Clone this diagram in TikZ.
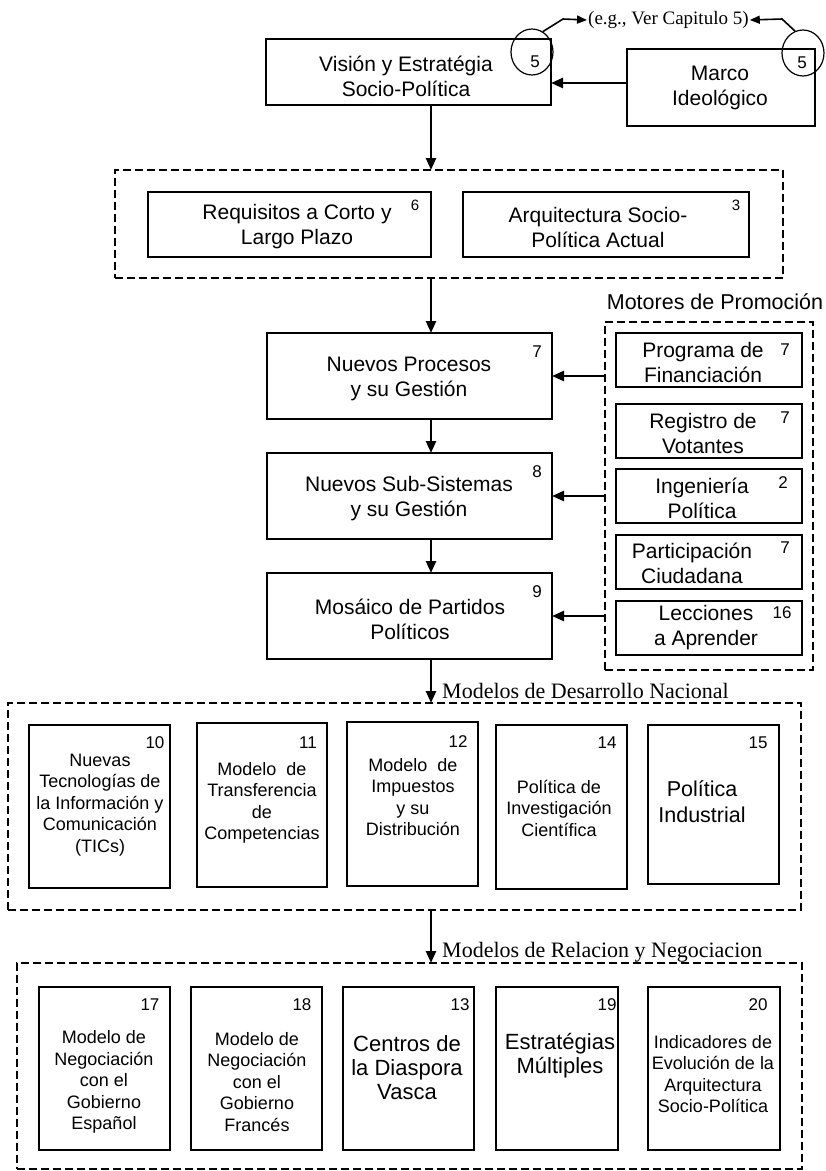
\documentclass[tikz,border=0pt]{standalone}
\usepackage{fontspec}
\setmainfont{Liberation Sans}
\newfontfamily\serifface{Liberation Serif}
\usetikzlibrary{arrows.meta,shapes.geometric}
\begin{document}
\begin{tikzpicture}[x=1pt,y=-1pt,
  box/.style={draw, line width=1.8pt, inner sep=0pt, outer sep=0pt},
  dbox/.style={draw, line width=2pt, dash pattern=on 8pt off 4pt, inner sep=0pt, outer sep=0pt},
  txt/.style={align=center, inner sep=0pt, font=\fontsize{21}{25}\selectfont},
  btxt/.style={align=center, inner sep=0pt, font=\fontsize{22}{24}\selectfont},
  stxt/.style={align=center, inner sep=0pt, font=\fontsize{18}{21.5}\selectfont},
  num/.style={inner sep=0pt, font=\fontsize{17}{20}\selectfont},
  snum/.style={inner sep=0pt, font=\fontsize{15}{18}\selectfont},
  circ/.style={draw, ellipse, line width=1.2pt, minimum width=42pt, minimum height=46pt, inner sep=0pt},
  arr/.style={line width=2.5pt, -{Triangle[length=12pt,width=10pt]}},
  egarr/.style={line width=1.6pt, -{Triangle[length=10pt,width=8pt]}},
  serlab/.style={inner sep=0pt, font=\serifface\fontsize{22}{26}\selectfont}
]
\fill[white] (0,0) rectangle (826,1171);
\useasboundingbox (0,0) rectangle (826,1171);

% ---- top
\node[box, minimum width=285pt, minimum height=66pt] (vis) at (408.5,72) {};
\node[txt] (tvis) at (406,76) {Visión y Estratégia\\Socio-Política};
\node[box, minimum width=188pt, minimum height=77pt] (mar) at (721,87.5) {};
\node[txt] (tmar) at (720,88) {Marco\\Ideológico};
\node[circ] (c1) at (532,52) {};
\node[num] (n1) at (535,62) {5};
\node[circ] (c2) at (803,53) {};
\node[num] (n2) at (802,63) {5};
\node[anchor=west, inner sep=1pt, font=\serifface\fontsize{19}{22}\selectfont] (eg) at (587,20) {(e.g., Ver Capitulo 5)};
\coordinate (k1) at (563,19);
\coordinate (k2) at (782,19);
\draw[egarr] (c1.62) -- (k1) -- (eg.west);
\draw[egarr] (c2.110) -- (k2) -- (eg.east);

% ---- first dashed group
\node[dbox, minimum width=668pt, minimum height=108pt] (d1) at (449,224) {};
\node[box, minimum width=283pt, minimum height=65pt] (req) at (289.5,224.5) {};
\node[txt] (treq) at (297,227) {Requisitos a Corto y\\Largo Plazo};
\node[snum] (n6) at (415,205) {6};
\node[box, minimum width=286pt, minimum height=65pt] (arq) at (606,224.5) {};
\node[txt] (tarq) at (598,227) {Arquitectura Socio-\\Política Actual};
\node[snum] (n3) at (736,205) {3};

% ---- main column
\node[box, minimum width=285pt, minimum height=86pt] (np) at (409.5,376) {};
\node[txt] (tnp) at (409,379) {Nuevos Procesos\\y su Gestión};
\node[num] (n7a) at (537,352) {7};
\node[box, minimum width=285pt, minimum height=86pt] (ns) at (409.5,496) {};
\node[txt] (tns) at (409,499) {Nuevos Sub-Sistemas\\y su Gestión};
\node[num] (n8) at (537,472) {8};
\node[box, minimum width=285pt, minimum height=86pt] (mo) at (409.5,616) {};
\node[txt] (tmo) at (410,619) {Mosáico de Partidos\\Políticos};
\node[num] (n9) at (537,592) {9};

% ---- motores
\node[inner sep=0pt, font=\fontsize{21.5}{25}\selectfont] (mot) at (715,302) {Motores de Promoción};
\node[dbox, minimum width=208pt, minimum height=348pt] (dm) at (709,496) {};
\node[box, minimum width=186pt, minimum height=54pt] (pf) at (709,360) {};
\node[txt] (tpf) at (703,362) {Programa de\\Financiación};
\node[num] (n7b) at (785,350) {7};
\node[box, minimum width=186pt, minimum height=54pt] (rv) at (709,431) {};
\node[txt] (trv) at (703,433) {Registro de\\Votantes};
\node[num] (n7c) at (785,418) {7};
\node[box, minimum width=186pt, minimum height=54pt] (ip) at (709,496) {};
\node[txt] (tip) at (702,498) {Ingeniería\\Política};
\node[num] (n2b) at (783,483) {2};
\node[box, minimum width=186pt, minimum height=54pt] (pc) at (709,562) {};
\node[txt] (tpc) at (692,563) {Participación\\Ciudadana};
\node[num] (n7d) at (785,548) {7};
\node[box, minimum width=186pt, minimum height=54pt] (la) at (709,628) {};
\node[txt] (tla) at (706,628) {Lecciones\\a Aprender};
\node[num] (n16) at (782,613) {16};

% ---- Modelos de Desarrollo Nacional
\node[dbox, minimum width=793pt, minimum height=207pt] (d2) at (404.5,806.5) {};
\node[serlab, anchor=base west] (lab1) at (442,698) {Modelos de Desarrollo Nacional};
\node[box, minimum width=141pt, minimum height=163pt] (b10) at (99.5,806.5) {};
\node[stxt] (t10) at (100,805) {Nuevas\\Tecnologías de\\la Información y\\Comunicación\\(TICs)};
\node[num] (n10) at (155,743) {10};
\node[box, minimum width=130pt, minimum height=164pt] (b11) at (262,805) {};
\node[stxt] (t11) at (262,803) {Modelo~ de\\Transferencia\\de\\Competencias};
\node[num] (n11) at (308,743) {11};
\node[box, minimum width=131pt, minimum height=164pt] (b12) at (412.5,804) {};
\node[stxt] (t12) at (413,797) {Modelo~ de\\Impuestos\\y su\\Distribución};
\node[num] (n12) at (458,742) {12};
\node[box, minimum width=131pt, minimum height=164pt] (b14) at (561.5,807) {};
\node[stxt] (t14) at (559,808) {Política de\\Investigación\\Científica};
\node[num] (n14) at (607,743) {14};
\node[box, minimum width=131pt, minimum height=159pt] (b15) at (713.5,804.5) {};
\node[txt, font=\fontsize{21.5}{26}\selectfont] (t15) at (702,802) {Política\\Industrial};
\node[num] (n15) at (758,743) {15};

% ---- Modelos de Relacion y Negociacion
\node[dbox, minimum width=785pt, minimum height=206pt] (d3) at (409.5,1066) {};
\node[serlab, anchor=base west] (lab2) at (442,957) {Modelos de Relacion y Negociacion};
\node[box, minimum width=131pt, minimum height=163pt] (b17) at (104.5,1068.5) {};
\node[stxt] (t17) at (104,1082) {Modelo de\\Negociación\\con el\\Gobierno\\Español};
\node[num] (n17) at (150,1005) {17};
\node[box, minimum width=131pt, minimum height=163pt] (b18) at (256.5,1068.5) {};
\node[stxt] (t18) at (257,1082) {Modelo de\\Negociación\\con el\\Gobierno\\Francés};
\node[num] (n18) at (302,1005) {18};
\node[box, minimum width=131pt, minimum height=163pt] (b13) at (408.5,1068.5) {};
\node[btxt] (t13) at (407,1068) {Centros de\\la Diaspora\\Vasca};
\node[num] (n13) at (460,1005) {13};
\node[box, minimum width=122pt, minimum height=163pt] (b19) at (557,1068.5) {};
\node[btxt] (t19) at (560,1056) {Estratégias\\Múltiples};
\node[num] (n19) at (607,1005) {19};
\node[box, minimum width=132pt, minimum height=163pt] (b20) at (714,1068.5) {};
\node[stxt] (t20) at (713,1074) {Indicadores de\\Evolución de la\\Arquitectura\\Socio-Política};
\node[num] (n20) at (758,1005) {20};

% ---- connectors
\coordinate (ax) at (431,0);
\draw[arr] ([yshift=4.5pt]mar.west) -- ([yshift=4.5pt]mar.west -| vis.east);
\draw[arr] (vis.south -| ax) -- (d1.north -| ax);
\draw[arr] (d1.south -| ax) -- (np.north -| ax);
\draw[arr] (np.south -| ax) -- (ns.north -| ax);
\draw[arr] (ns.south -| ax) -- (mo.north -| ax);
\draw[arr] (mo.south -| ax) -- (d2.north -| ax);
\draw[arr] (d2.south -| ax) -- (d3.north -| ax);
\draw[arr] (dm.west |- np.east) -- (np.east);
\draw[arr] (dm.west |- ns.east) -- (ns.east);
\draw[arr] (dm.west |- mo.east) -- (mo.east);
\end{tikzpicture}
\end{document}
